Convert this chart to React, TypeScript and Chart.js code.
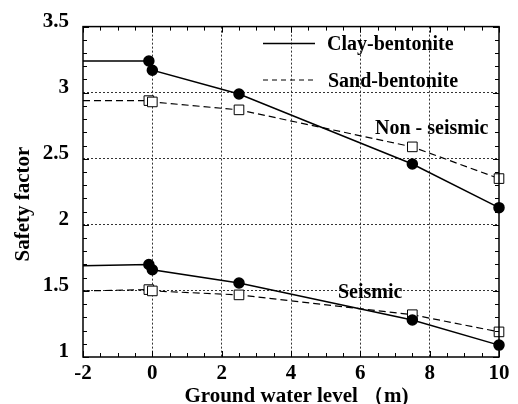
import React, { useEffect, useRef } from "react";
import { Chart, registerables } from "chart.js";

Chart.register(...registerables);

// ---- data ----
const waterLevels = [-2, -0.1, 0, 2.5, 7.5, 10];
const clayNonSeismic = [3.24, 3.24, 3.17, 2.99, 2.46, 2.13];
const sandNonSeismic = [2.94, 2.94, 2.93, 2.87, 2.59, 2.35];
const claySeismic = [1.69, 1.7, 1.66, 1.56, 1.28, 1.09];
const sandSeismic = [1.5, 1.51, 1.5, 1.47, 1.32, 1.19];
const legendLabels = ["Clay-bentonite", "Sand-bentonite"];
const groupLabels = ["Non - seismic", "Seismic"];
const xAxisTitle = "Ground water level （m)";
const yAxisTitle = "Safety factor";
const xRange = [-2, 10];
const yRange = [1, 3.5];

const SERIF = '"Liberation Serif", "Times New Roman", serif';

export default function App() {
  const ref = useRef<HTMLCanvasElement>(null);

  useEffect(() => {
    const canvas = ref.current;
    if (!canvas) return;
    const toPts = (ys: number[]) => waterLevels.map((x, i) => ({ x, y: ys[i] }));
    const radii = (r: number) => waterLevels.map((_, i) => (i === 0 ? 0 : r));

    const decor = {
      id: "decor",
      afterDraw(chart: any) {
        const { ctx, chartArea: a, scales } = chart;
        const sx = scales.x;
        const sy = scales.y;
        ctx.save();
        // frame
        ctx.strokeStyle = "#000";
        ctx.lineWidth = 1.5;
        ctx.strokeRect(a.left, a.top, a.right - a.left, a.bottom - a.top);
        // inward ticks
        ctx.lineWidth = 1;
        ctx.beginPath();
        for (let i = 0; i <= (xRange[1] - xRange[0]) * 2; i++) {
          const v = xRange[0] + i * 0.5;
          const px = Math.round(sx.getPixelForValue(v)) + 0.5;
          const len = i % 4 === 0 ? 6 : 4;
          ctx.moveTo(px, a.bottom);
          ctx.lineTo(px, a.bottom - len);
          ctx.moveTo(px, a.top);
          ctx.lineTo(px, a.top + len);
        }
        for (let i = 0; i <= Math.round((yRange[1] - yRange[0]) * 10); i++) {
          const v = yRange[0] + i * 0.1;
          const py = Math.round(sy.getPixelForValue(v)) + 0.5;
          const len = i % 5 === 0 ? 6 : 4;
          ctx.moveTo(a.left, py);
          ctx.lineTo(a.left + len, py);
          ctx.moveTo(a.right, py);
          ctx.lineTo(a.right - len, py);
        }
        ctx.stroke();

        // legend
        ctx.fillStyle = "#000";
        ctx.font = `bold 20px ${SERIF}`;
        ctx.textBaseline = "alphabetic";
        ctx.textAlign = "left";
        ctx.lineWidth = 1.5;
        ctx.setLineDash([]);
        ctx.beginPath();
        ctx.moveTo(263, 43.5);
        ctx.lineTo(315, 43.5);
        ctx.stroke();
        ctx.fillText(legendLabels[0], 327, 49.5);
        ctx.lineWidth = 1.2;
        ctx.setLineDash([5, 4]);
        ctx.beginPath();
        ctx.moveTo(263, 80);
        ctx.lineTo(315, 80);
        ctx.stroke();
        ctx.setLineDash([]);
        ctx.fillText(legendLabels[1], 328, 86.5);

        // group labels
        ctx.fillText(groupLabels[0], 375, 134);
        ctx.fillText(groupLabels[1], 338, 298);

        // axis titles
        ctx.font = `bold 21px ${SERIF}`;
        ctx.textAlign = "center";
        ctx.fillText(xAxisTitle, 296.5, 402);
        ctx.save();
        ctx.translate(29, 204);
        ctx.rotate(-Math.PI / 2);
        ctx.fillText(yAxisTitle, 0, 0);
        ctx.restore();
        ctx.restore();
      },
    };

    const gridColor = (min: number, max: number) => (c: any) =>
      c.tick && (Math.abs(c.tick.value - min) < 1e-9 || Math.abs(c.tick.value - max) < 1e-9)
        ? "rgba(0,0,0,0)"
        : "#333";

    const tickFont = { family: SERIF, size: 21, weight: "bold" as any };

    const chart = new Chart(canvas, {
      type: "line",
      data: {
        datasets: [
          {
            label: "Clay-bentonite (non-seismic)",
            data: toPts(clayNonSeismic),
            borderColor: "#000",
            borderWidth: 1.5,
            pointStyle: "circle",
            pointRadius: radii(5),
            pointBackgroundColor: "#000",
            pointBorderColor: "#000",
            clip: false,
          },
          {
            label: "Sand-bentonite (non-seismic)",
            data: toPts(sandNonSeismic),
            borderColor: "#000",
            borderWidth: 1.2,
            borderDash: [7, 4],
            pointStyle: "rect",
            pointRadius: radii(6.8),
            pointBackgroundColor: "#fff",
            pointBorderColor: "#000",
            pointBorderWidth: 1,
            clip: false,
          },
          {
            label: "Clay-bentonite (seismic)",
            data: toPts(claySeismic),
            borderColor: "#000",
            borderWidth: 1.5,
            pointStyle: "circle",
            pointRadius: radii(5),
            pointBackgroundColor: "#000",
            pointBorderColor: "#000",
            clip: false,
          },
          {
            label: "Sand-bentonite (seismic)",
            data: toPts(sandSeismic),
            borderColor: "#000",
            borderWidth: 1.2,
            borderDash: [7, 4],
            pointStyle: "rect",
            pointRadius: radii(6.8),
            pointBackgroundColor: "#fff",
            pointBorderColor: "#000",
            pointBorderWidth: 1,
            clip: false,
          },
        ],
      },
      options: {
        animation: false,
        responsive: false,
        devicePixelRatio: 1,
        layout: { padding: { top: 24, right: 19, left: 0, bottom: 0 } },
        plugins: { legend: { display: false }, tooltip: { enabled: false } },
        scales: {
          x: {
            type: "linear",
            min: xRange[0],
            max: xRange[1],
            afterFit: (s: any) => {
              s.height = 47;
            },
            ticks: {
              stepSize: 2,
              color: "#000",
              padding: 4,
              font: tickFont,
            },
            grid: { color: gridColor(xRange[0], xRange[1]), lineWidth: 1, drawTicks: false },
            border: { display: false, dash: [2, 2] },
            title: { display: false },
          },
          y: {
            type: "linear",
            min: yRange[0],
            max: yRange[1],
            afterFit: (s: any) => {
              s.width = 83;
            },
            ticks: {
              stepSize: 0.5,
              color: "#000",
              padding: 14,
              labelOffset: -5,
              font: tickFont,
              callback: (v: any) => String(v),
            },
            grid: { color: gridColor(yRange[0], yRange[1]), lineWidth: 1, drawTicks: false },
            border: { display: false, dash: [2, 2] },
          },
        },
      },
      plugins: [decor],
    });
    return () => chart.destroy();
  }, []);

  return (
    <div style={{ position: "absolute", left: 0, top: 0, width: 518, height: 404, background: "#fff" }}>
      <canvas ref={ref} width={518} height={404} />
    </div>
  );
}
